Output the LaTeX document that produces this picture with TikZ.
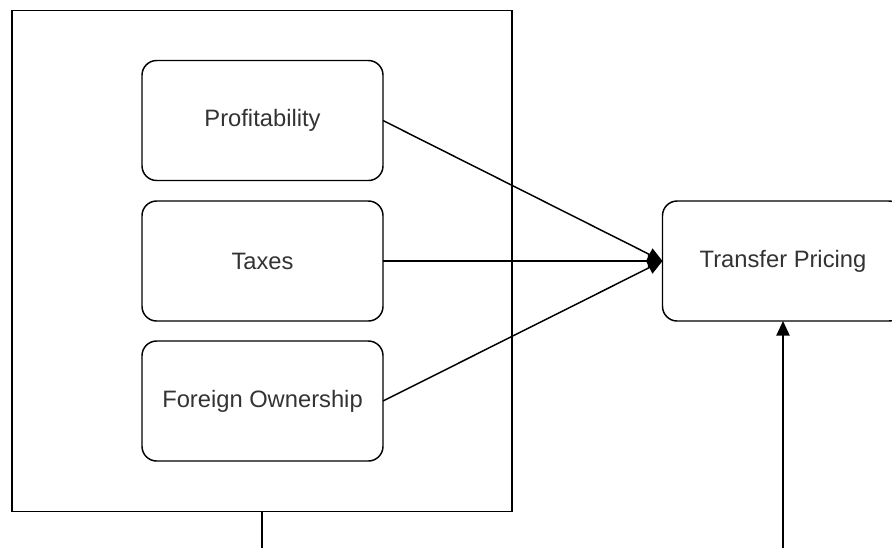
\documentclass[tikz,border=0pt]{standalone}
\usepackage{fontspec}
\setmainfont{Liberation Sans}
\usetikzlibrary{arrows.meta}
\begin{document}
\begin{tikzpicture}[x=0.75pt,y=-0.75pt,
  lw/.style={line width=1.1pt},
  outer/.style={draw,lw,minimum width=375pt,minimum height=375.75pt,inner sep=0pt,outer sep=0pt},
  card/.style={draw,lw,rounded corners=11pt,minimum width=180.75pt,minimum height=90pt,inner sep=0pt,outer sep=0pt,text=black!80,font=\fontsize{17.8pt}{20pt}\selectfont},
  conn/.style={lw,-{Triangle[length=11pt,width=10pt]}}]
\useasboundingbox (0,0) rectangle (892,547);
\clip (0,0) rectangle (892,547);
\fill[white] (0,0) rectangle (892,547);
\node[outer] (frame) at (262,261) {};
\node[card] (prof) at (262.5,120.5) {Profitability};
\node[card] (tax) at (262.5,261) {Taxes};
\node[card] (fo) at (262.5,401) {Foreign Ownership};
\node[card] (tp) at (783,261) {Transfer Pricing};
\coordinate (b1) at (262,560);
\coordinate (b2) at (783,560);
\draw[conn] (prof.east) -- (tp.west);
\draw[conn] (tax.east) -- (tp.west);
\draw[conn] (fo.east) -- (tp.west);
\draw[lw] (frame.south) -- (b1);
\draw[conn] (b2) -- (tp.south);
\end{tikzpicture}
\end{document}
